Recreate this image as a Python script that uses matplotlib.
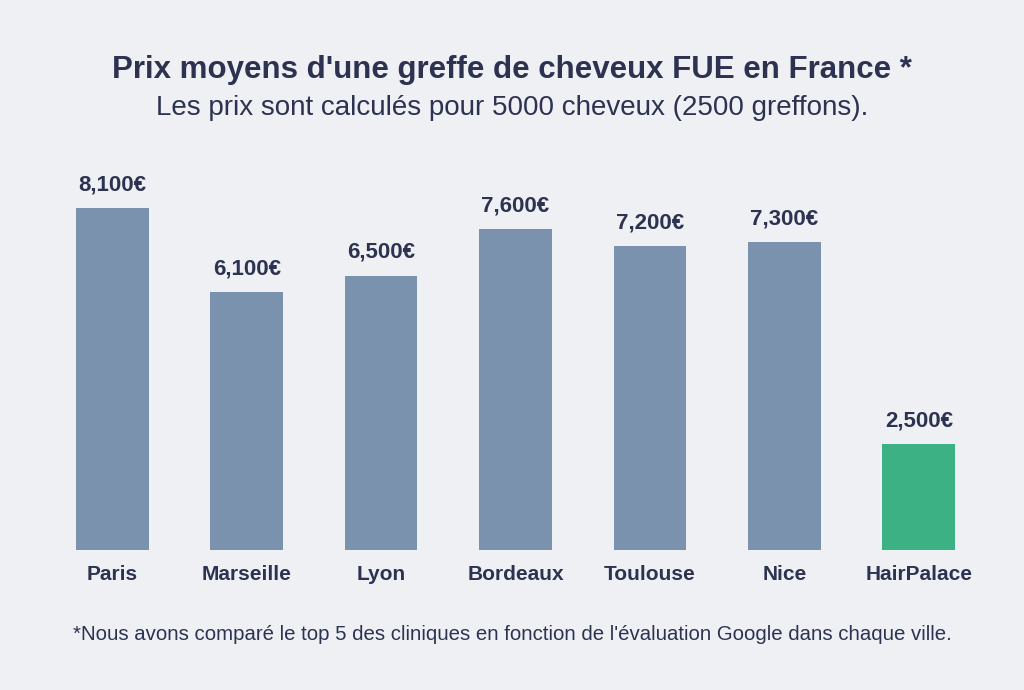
import matplotlib
matplotlib.use("Agg")
import matplotlib.pyplot as plt

categories = ["Paris", "Marseille", "Lyon", "Bordeaux", "Toulouse", "Nice", "HairPalace"]
values = [8100, 6100, 6500, 7600, 7200, 7300, 2500]
labels = ["8,100€", "6,100€", "6,500€", "7,600€", "7,200€", "7,300€", "2,500€"]

plt.rcParams["font.family"] = "Liberation Sans"
bg = "#eef0f4"
txt = "#2d3250"
colors = ["#7a92ae"] * 6 + ["#3cb284"]

fig = plt.figure(figsize=(10.24, 6.9), dpi=100, facecolor=bg)
ax = fig.add_axes([45/1024, 140/690, 941/1024, 380/690])
ax.set_facecolor(bg)
x = range(len(categories))
ax.bar(x, values, width=0.54, color=colors)
for i, (v, l) in enumerate(zip(values, labels)):
    ax.text(i, v + 300, l, ha="center", va="bottom", fontsize=16, fontweight="bold", color=txt)
ax.set_xlim(-0.5, 6.5)
ax.set_ylim(0, 9000)
ax.set_xticks(list(x))
ax.set_xticklabels(categories, fontsize=15, fontweight="bold", color=txt)
ax.tick_params(axis="x", length=0, pad=11)
ax.set_yticks([])
for s in ax.spines.values():
    s.set_visible(False)

fig.text(0.5, 1 - 70/690, "Prix moyens d'une greffe de cheveux FUE en France *", ha="center", va="center",
         fontsize=22.5, fontweight="bold", color=txt)
fig.text(0.5, 1 - 108/690, "Les prix sont calculés pour 5000 cheveux (2500 greffons).", ha="center", va="center",
         fontsize=20, color=txt)
fig.text(0.5, 1 - 635/690, "*Nous avons comparé le top 5 des cliniques en fonction de l'évaluation Google dans chaque ville.",
         ha="center", va="center", fontsize=14.7, color=txt)
fig.savefig("out.png", dpi=100, facecolor=bg)
